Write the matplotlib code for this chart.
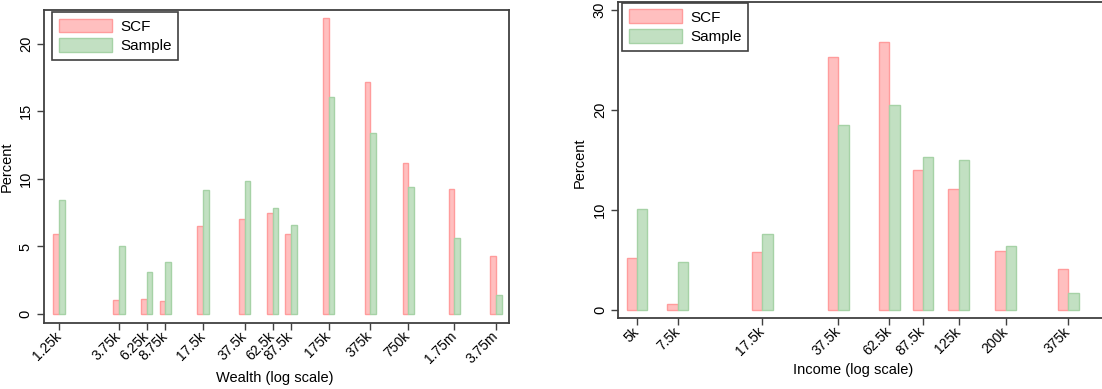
import matplotlib.pyplot as plt
import numpy as np

plt.rcParams['font.family'] = ['Liberation Sans', 'DejaVu Sans']

# wealth bins (dollars) and shares (percent)
wealth_bins = [1250, 3750, 6250, 8750, 17500, 37500, 62500, 87500,
               175000, 375000, 750000, 1750000, 3750000]
wealth_labels = ['1.25k', '3.75k', '6.25k', '8.75k', '17.5k', '37.5k', '62.5k',
                 '87.5k', '175k', '375k', '750k', '1.75m', '3.75m']
wealth_scf = [5.94, 1.04, 1.11, 0.94, 6.51, 7.03, 7.47, 5.94, 21.92, 17.16, 11.17, 9.27, 4.29]
wealth_sample = [8.43, 5.06, 3.13, 3.87, 9.17, 9.86, 7.82, 6.58, 16.03, 13.37, 9.42, 5.6, 1.41]

income_bins = [5000, 7500, 17500, 37500, 62500, 87500, 125000, 200000, 375000]
income_labels = ['5k', '7.5k', '17.5k', '37.5k', '62.5k', '87.5k', '125k', '200k', '375k']
income_scf = [5.2, 0.57, 5.77, 25.3, 26.77, 14.03, 12.07, 5.9, 4.13]
income_sample = [10.1, 4.8, 7.6, 18.5, 20.47, 15.27, 15.0, 6.37, 1.67]

scf_face, scf_edge = '#ffbfbf', '#ff9c9c'
smp_face, smp_edge = '#c2e0c2', '#a6d2a6'
spine_col = '#404040'


def panel(ax, bins, labels, scf, sample, xlabel, xlim, ylim, yticks,
          xlab_pos, ylab_pos, leg_pos, w=0.045):
    bins = np.array(bins, dtype=float)
    f = 10 ** w
    ax.bar(bins / f, scf, width=bins - bins / f, align='edge',
           color=scf_face, edgecolor=scf_edge, linewidth=1.0, label='SCF')
    ax.bar(bins, sample, width=bins * f - bins, align='edge',
           color=smp_face, edgecolor=smp_edge, linewidth=1.0, label='Sample')
    ax.set_xscale('log')
    ax.set_xlim(*xlim)
    ax.set_ylim(*ylim)
    ax.xaxis.set_minor_locator(plt.NullLocator())
    ax.set_xticks(bins)
    ax.set_xticklabels(labels, rotation=45, ha='right', va='center',
                       rotation_mode='anchor', fontsize=10)
    ax.set_yticks(yticks)
    ax.set_yticklabels([str(t) for t in yticks], rotation=90, va='center',
                       fontsize=10.5)
    ax.tick_params(direction='out', length=5, width=1, color=spine_col, pad=3)
    ax.tick_params(axis='x', pad=3)
    for s in ax.spines.values():
        s.set_color(spine_col)
        s.set_linewidth(1.3)
    ax.set_xlabel(xlabel, fontsize=10.5)
    ax.set_ylabel('Percent', fontsize=10.5)
    ax.xaxis.set_label_coords(*xlab_pos)
    ax.yaxis.set_label_coords(*ylab_pos)
    leg = ax.legend(loc='upper left', bbox_to_anchor=leg_pos, fontsize=11,
                    handlelength=3.5, handleheight=1.0, borderaxespad=0,
                    fancybox=False, framealpha=1, borderpad=0.45,
                    labelspacing=0.3, handletextpad=0.5)
    leg.get_frame().set_edgecolor(spine_col)
    leg.get_frame().set_linewidth(1.2)


fig = plt.figure(figsize=(11.02, 3.89), dpi=100)
ax1 = fig.add_axes([0.0399, 0.1704, 0.422, 0.804])
ax2 = fig.add_axes([0.5608, 0.1818, 0.466, 0.814])

panel(ax1, wealth_bins, wealth_labels, wealth_scf, wealth_sample,
      'Wealth (log scale)', (950, 4.75e6), (-0.64, 22.5), [0, 5, 10, 15, 20],
      (0.497, -0.155), (-0.064, 0.5), (0.017, 0.994))
panel(ax2, income_bins, income_labels, income_scf, income_sample,
      'Income (log scale)', (4130, 7.06e5), (-0.83, 30.8), [0, 10, 20, 30],
      (0.458, -0.14), (-0.06, 0.49), (0.008, 0.997))

fig.savefig('out.png', dpi=100)
